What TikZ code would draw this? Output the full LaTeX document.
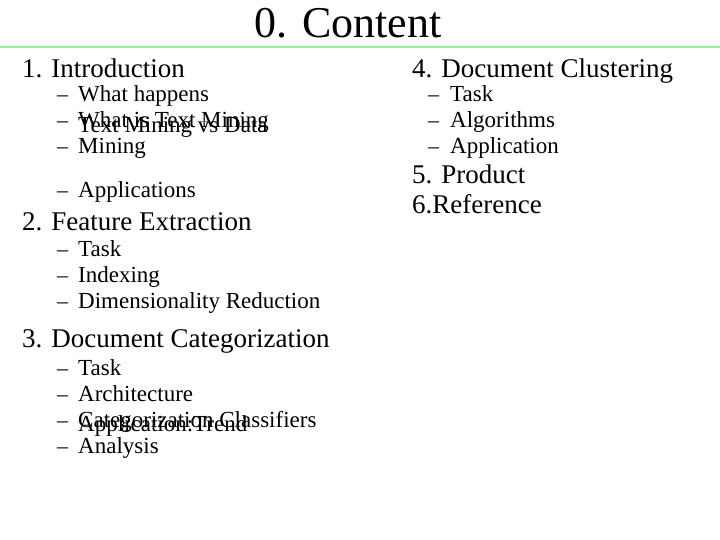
\documentclass[tikz,border=0pt]{standalone}
\usepackage{fontspec}
\setmainfont{Liberation Serif}
\begin{document}
\begin{tikzpicture}[x=1pt,y=-1pt,
  head/.style={anchor=base west,inner sep=0pt,font=\fontsize{27}{29}\selectfont},
  sub/.style={anchor=base west,inner sep=0pt,font=\fontsize{23}{19}\selectfont,align=left},
  dashm/.style={anchor=base west,inner sep=0pt,font=\fontsize{22}{19}\selectfont}]
\useasboundingbox (0,0) rectangle (720,540);
\node[anchor=base,inner sep=0pt,font=\fontsize{44}{46}\selectfont] (title) at (348,38) {0. Content};
\draw[line width=2.5pt,color={rgb,255:red,150;green,240;blue,150}] (0,47) -- (720,47);
\node[head] (h1) at (22,78) {1. Introduction};
\foreach \t/\y/\n in {What happens/102/a,What is Text Mining/128/b,{Text Mining vs Data\\Mining}/154/c,Applications/198/d}{
  \node[dashm] (d1\n) at (57,\y) {–};
  \node[sub] (s1\n) at (78,\y) {\t};}
\node[head] (h2) at (22,230) {2. Feature Extraction};
\foreach \t/\y/\n in {Task/256/a,Indexing/282/b,Dimensionality Reduction/308/c}{
  \node[dashm] (d2\n) at (57,\y) {–};
  \node[sub] (s2\n) at (78,\y) {\t};}
\node[head] (h3) at (22,347) {3. Document Categorization};
\foreach \t/\y/\n in {Task/375/a,Architecture/401/b,Categorization Classifiers/427/c,{Application:Trend\\Analysis}/453/d}{
  \node[dashm] (d3\n) at (57,\y) {–};
  \node[sub] (s3\n) at (78,\y) {\t};}
\node[head] (h4) at (412,78) {4. Document Clustering};
\foreach \t/\y/\n in {Task/102/a,Algorithms/128/b,Application/154/c}{
  \node[dashm] (d4\n) at (428,\y) {–};
  \node[sub] (s4\n) at (450,\y) {\t};}
\node[head] (h5) at (412,184) {5. Product};
\node[head] (h6) at (412,214) {6.Reference};
\end{tikzpicture}
\end{document}
